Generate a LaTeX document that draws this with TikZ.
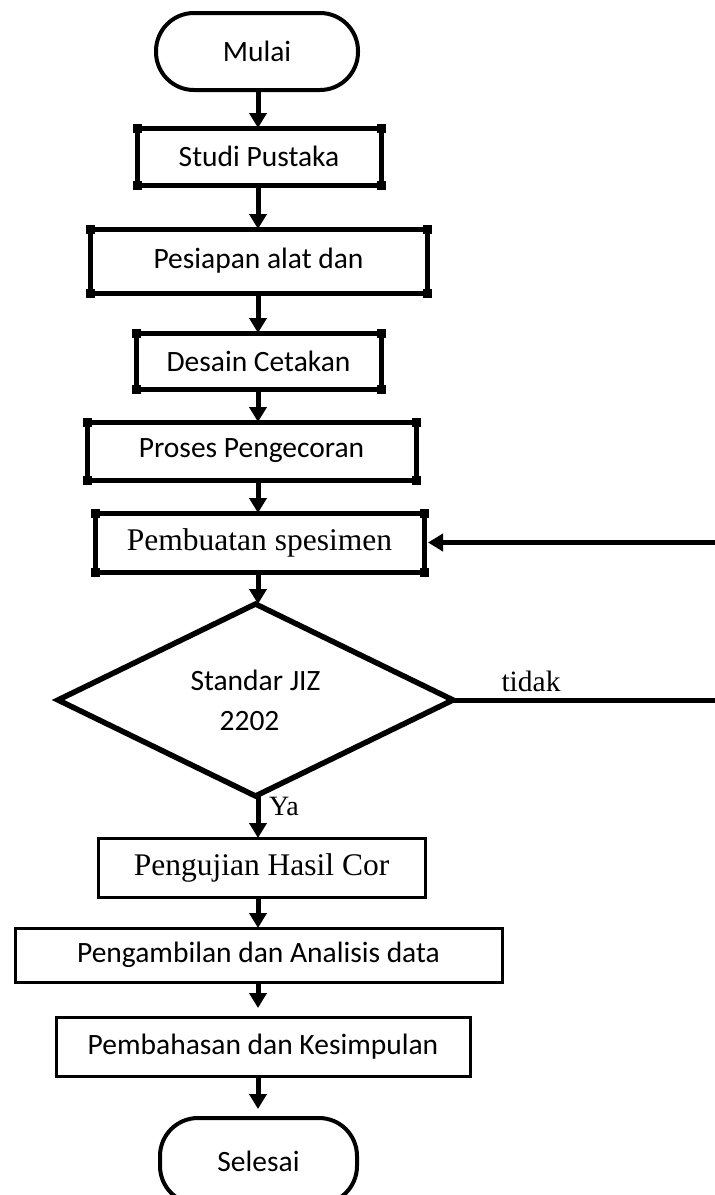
\documentclass[tikz,border=0pt]{standalone}
\usepackage{fontspec}
\setmainfont{Carlito}
\newfontfamily\serifface{Liberation Serif}
\usetikzlibrary{shapes.geometric,arrows.meta}
\begin{document}
\begin{tikzpicture}[x=1pt,y=-1pt,
  sans/.style={font=\fontsize{29.5}{34}\selectfont},
  serif/.style={font=\serifface\fontsize{31.5}{36}\selectfont},
  pbox/.style={draw, line width=5pt, outer sep=0pt, inner sep=0pt, sans},
  tbox/.style={draw, line width=3pt, outer sep=0pt, inner sep=0pt, sans},
  term/.style={draw, line width=4pt, rounded corners=38pt, outer sep=0pt, inner sep=0pt, sans},
  arr/.style={line width=5pt, -{Triangle[width=17pt,length=15pt]}},
  lbl/.style={font=\serifface\fontsize{29.5}{34}\selectfont, inner sep=0pt},
]
\useasboundingbox (0,0) rectangle (715,1195);
\fill[white] (0,0) rectangle (715,1195);

\node[term, minimum width=202pt, minimum height=77pt] (mulai) at (257,51.5) {Mulai};
\node[pbox, minimum width=244pt, minimum height=57pt] (studi) at (259,156.5) {Studi Pustaka};
\node[pbox, minimum width=337pt, minimum height=64pt] (pesiapan) at (258.5,261) {Pesiapan alat dan};
\node[pbox, minimum width=245pt, minimum height=56pt] (desain) at (258.5,361) {Desain Cetakan};
\node[pbox, minimum width=329pt, minimum height=58pt] (proses) at (251.5,451) {Proses Pengecoran};
\node[pbox, serif, minimum width=329pt, minimum height=59pt] (pembuatan) at (259.5,542.5) {Pembuatan spesimen};
\node[draw, diamond, line width=5.5pt, outer sep=0pt, inner sep=0pt,
      minimum width=395pt, minimum height=192pt, align=center,
      font=\fontsize{29.5}{40}\selectfont] (dia) at (255.5,700) {Standar JIZ\\2202\hspace*{12pt}};
\node[tbox, serif, minimum width=327pt, minimum height=59pt] (pengujian) at (261.5,867.5) {Pengujian Hasil Cor};
\node[tbox, minimum width=487pt, minimum height=54pt] (pengambilan) at (258.5,955) {Pengambilan dan Analisis data};
\node[tbox, minimum width=414pt, minimum height=59pt] (pembahasan) at (263,1046.5) {Pembahasan dan Kesimpulan};
\node[term, minimum width=197pt, minimum height=86pt] (selesai) at (258.5,1161) {Selesai};

\foreach \n in {studi,pesiapan,desain,proses,pembuatan}
  \foreach \c in {north west,north east,south west,south east}
    \fill (\n.\c) ++(-4.5,-4.5) rectangle ++(9,9);

\coordinate (sp) at (258,0);
\coordinate (redge) at (717,0);

\draw[arr] (mulai.south -| sp) -- (studi.north -| sp);
\draw[arr] (studi.south -| sp) -- (pesiapan.north -| sp);
\draw[arr] (pesiapan.south -| sp) -- (desain.north -| sp);
\draw[arr] (desain.south -| sp) -- (proses.north -| sp);
\draw[arr] (proses.south -| sp) -- (pembuatan.north -| sp);
\draw[arr] (pembuatan.south -| sp) -- (dia.north -| sp);
\draw[arr] (dia.south -| sp) -- (pengujian.north -| sp);
\draw[arr] (pengujian.south -| sp) -- (pengambilan.north -| sp);
\draw[arr] (pengambilan.south -| sp) -- ([yshift=9pt]pembahasan.north -| sp);
\draw[arr] (pembahasan.south -| sp) -- ([yshift=9pt]selesai.north -| sp);

\draw[arr, shorten >=4pt] (redge |- pembuatan.east) -- (pembuatan.east);
\draw[line width=5pt] (dia.east) -- (redge |- dia.east);

\node[lbl] (tidak) at (531,681) {tidak};
\node[lbl, font=\serifface\fontsize{28}{32}\selectfont] (ya) at (284,806) {Ya};
\end{tikzpicture}
\end{document}
